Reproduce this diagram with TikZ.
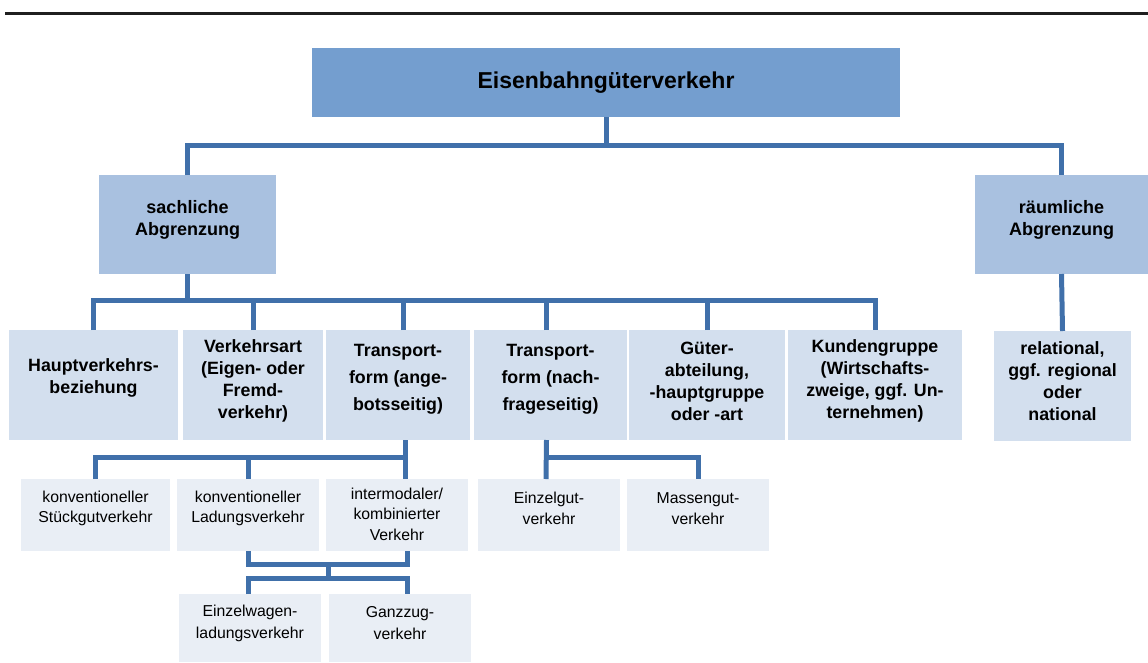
\documentclass[tikz,border=0pt]{standalone}
\usepackage{fontspec}
\setmainfont{Liberation Sans}
\definecolor{lc}{RGB}{64,112,170}
\definecolor{f1}{RGB}{116,158,207}
\definecolor{f2}{RGB}{169,193,224}
\definecolor{f3}{RGB}{211,223,238}
\definecolor{f4}{RGB}{233,238,245}
\begin{document}
\begin{tikzpicture}[x=1pt,y=-1pt,
  bx/.style={anchor=north west,inner sep=0pt,outer sep=0pt,draw=none},
  lv1/.style={bx,fill=f1},
  lv2/.style={bx,fill=f2},
  lv3/.style={bx,fill=f3},
  lv4/.style={bx,fill=f4},
  t1/.style={align=center,inner sep=0pt,font=\fontsize{23}{27}\selectfont\bfseries},
  t2/.style={align=center,inner sep=0pt,font=\fontsize{18}{22}\selectfont\bfseries},
  t3/.style={align=center,inner sep=0pt,font=\fontsize{17.8}{22}\selectfont\bfseries},
  t3w/.style={align=center,inner sep=0pt,font=\fontsize{17.8}{27}\selectfont\bfseries},
  t4/.style={align=center,inner sep=0pt,font=\fontsize{15.8}{20.5}\selectfont},
  t5/.style={align=center,inner sep=0pt,font=\fontsize{15.8}{22}\selectfont},
  conn/.style={draw=lc,line width=5pt,line join=miter}
]
\useasboundingbox (0,0) rectangle (1148,662);
\draw[line width=3pt,black!88] (5,13) -- (1148,13);

% level 1
\node[lv1,minimum width=588,minimum height=69] (top) at (312,48) {};
\node[t1] at (top.center) {Eisenbahngüterverkehr};

% level 2
\node[lv2,minimum width=177,minimum height=99] (sach) at (99,175) {};
\node[t2] at ([yshift=5]sach.center) {sachliche\\Abgrenzung};
\node[lv2,minimum width=173,minimum height=99] (raum) at (975,175) {};
\node[t2] at ([yshift=5]raum.center) {räumliche\\Abgrenzung};

% level 3
\node[lv3,minimum width=169,minimum height=110] (b1) at (9,330) {};
\node[t3] at ([yshift=7]b1.center) {Hauptverkehrs-\\beziehung};
\node[lv3,minimum width=140,minimum height=110] (b2) at (183,330) {};
\node[t3] at ([yshift=4]b2.center) {Verkehrsart\\(Eigen- oder\\Fremd-\\verkehr)};
\node[lv3,minimum width=144,minimum height=110] (b3) at (326,330) {};
\node[t3w] at ([yshift=6]b3.center) {Transport-\\form (ange-\\botsseitig)};
\node[lv3,minimum width=153,minimum height=110] (b4) at (474,330) {};
\node[t3w] at ([yshift=6]b4.center) {Transport-\\form (nach-\\frageseitig)};
\node[lv3,minimum width=156,minimum height=110] (b5) at (629,330) {};
\node[t3] at ([yshift=4]b5.center) {Güter-\\abteilung,\\-hauptgruppe\\oder -art};
\node[lv3,minimum width=174,minimum height=110] (b6) at (788,330) {};
\node[t3] at ([yshift=4]b6.center) {Kundengruppe\\(Wirtschafts-\\zweige, ggf. Un-\\ternehmen)};
\node[lv3,minimum width=137,minimum height=110] (b7) at (994,331) {};
\node[t3] at ([yshift=5]b7.center) {relational,\\ggf. regional\\oder\\national};

% level 4
\node[lv4,minimum width=149,minimum height=72] (c1) at (21,479) {};
\node[t4] at ([yshift=6.5]c1.center) {konventioneller\\Stückgutverkehr};
\node[lv4,minimum width=142,minimum height=72] (c2) at (177,479) {};
\node[t4] at ([yshift=6.5]c2.center) {konventioneller\\Ladungsverkehr};
\node[lv4,minimum width=142,minimum height=72] (c3) at (326,479) {};
\node[t4] at ([yshift=1]c3.center) {intermodaler/\\kombinierter\\Verkehr};
\node[lv4,minimum width=142,minimum height=72] (c4) at (478,479) {};
\node[t4] at ([yshift=6.5]c4.center) {Einzelgut-\\verkehr};
\node[lv4,minimum width=142,minimum height=72] (c5) at (627,479) {};
\node[t4] at ([yshift=6.5]c5.center) {Massengut-\\verkehr};

% level 5
\node[lv4,minimum width=142,minimum height=68] (d1) at (179,594) {};
\node[t5] at ([yshift=5]d1.center) {Einzelwagen-\\ladungsverkehr};
\node[lv4,minimum width=142,minimum height=68] (d2) at (329,594) {};
\node[t5] at ([yshift=5]d2.center) {Ganzzug-\\verkehr};

% connectors
\coordinate (j1) at (606,145);
\draw[conn] (top.south) -- (j1);
\draw[conn] (sach.north) |- (j1) -| (raum.north);
\draw[conn] (raum.south) -- (b7.north);

\coordinate (j2) at (187.5,300);
\draw[conn] (sach.south) -- (j2);
\draw[conn] (b1.north) |- (j2) -| (b6.north);
\draw[conn] (b2.north) -- (b2.north |- j2);
\draw[conn] ([xshift=5]b3.north) -- ([xshift=5]b3.north |- j2);
\draw[conn] ([xshift=-4]b4.north) -- ([xshift=-4]b4.north |- j2);
\draw[conn] (b5.north) -- (b5.north |- j2);

\coordinate (j3) at (405,457);
\draw[conn] ([xshift=7]b3.south) -- (j3);
\draw[conn] (c1.north) |- (j3) -- ([xshift=8]c3.north);
\draw[conn] (c2.north) -- (c2.north |- j3);

\coordinate (j4) at (546,457);
\draw[conn] ([xshift=-4]b4.south) -- ([xshift=-3]c4.north);
\draw[conn] (j4) -| (c5.north);

\coordinate (j5) at (328,564);
\coordinate (j6) at (328,578);
\draw[conn] (c2.south) |- (j5) -| ([xshift=10]c3.south);
\draw[conn] (j5) -- (j6);
\draw[conn] ([xshift=-2]d1.north) |- (j6) -| ([xshift=7]d2.north);
\end{tikzpicture}
\end{document}
